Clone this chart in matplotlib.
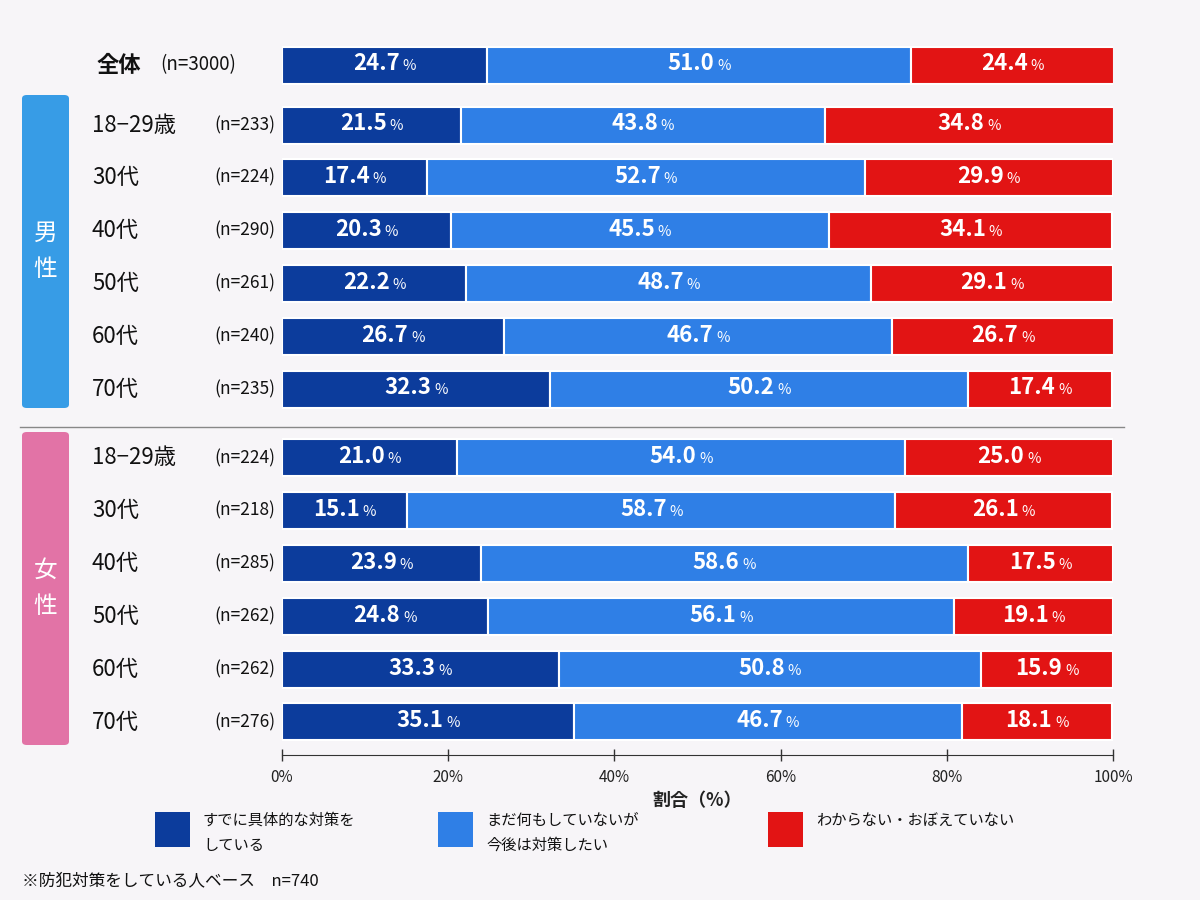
import matplotlib
matplotlib.use("Agg")
import matplotlib.pyplot as plt
from matplotlib.patches import FancyBboxPatch
from matplotlib.offsetbox import TextArea, HPacker, AnnotationBbox
import matplotlib.transforms as mtransforms

plt.rcParams["font.family"] = ["Noto Sans CJK JP", "DejaVu Sans"]

# ---- data ----
row_names = ["全体",
             "18−29歳", "30代", "40代", "50代", "60代", "70代",
             "18−29歳", "30代", "40代", "50代", "60代", "70代"]
row_n = ["(n=3000)",
         "(n=233)", "(n=224)", "(n=290)", "(n=261)", "(n=240)", "(n=235)",
         "(n=224)", "(n=218)", "(n=285)", "(n=262)", "(n=262)", "(n=276)"]
done = [24.7, 21.5, 17.4, 20.3, 22.2, 26.7, 32.3, 21.0, 15.1, 23.9, 24.8, 33.3, 35.1]
want = [51.0, 43.8, 52.7, 45.5, 48.7, 46.7, 50.2, 54.0, 58.7, 58.6, 56.1, 50.8, 46.7]
unknown = [24.4, 34.8, 29.9, 34.1, 29.1, 26.7, 17.4, 25.0, 26.1, 17.5, 19.1, 15.9, 18.1]
series_names = ["すでに具体的な対策を\nしている", "まだ何もしていないが\n今後は対策したい",
                "わからない・おぼえていない"]
colors = ["#0C3C9C", "#2F7FE6", "#E21414"]
groups = ["男性", "女性"]
group_colors = ["#379CE6", "#E273A6"]
xticks = [0, 20, 40, 60, 80, 100]
note = "※防犯対策をしている人ベース　n=740"

W, H = 1200, 900
fig = plt.figure(figsize=(12, 9), dpi=100)
fig.patch.set_facecolor("#F7F5F8")

# axes in pixel-like coordinates: x 282..1113, y top 40..bottom 755
ax = fig.add_axes([282 / W, 1 - 755 / H, (1113 - 282) / W, (755 - 40) / H])
ax.set_facecolor("none")
ax.set_xlim(0, 100)
ax.set_ylim(755, 40)

# row centres (px)
step = 52.8
ypos = [65] + [125 + i * step for i in range(6)] + [458 + i * step for i in range(6)]
bar_h = 37


def pct_label(x, y, v):
    num = TextArea(f"{v:.1f}", textprops=dict(color="white", fontsize=16, fontweight="bold"))
    pc = TextArea("%", textprops=dict(color="white", fontsize=10.5))
    box = HPacker(children=[num, pc], align="baseline", pad=0, sep=2)
    ab = AnnotationBbox(box, (x, y), frameon=False, box_alignment=(0.5, 0.45))
    ax.add_artist(ab)


for i, y in enumerate(ypos):
    left = 0
    for vals, c in zip([done, want, unknown], colors):
        v = vals[i]
        ax.barh(y, v, left=left, height=bar_h, color=c, edgecolor="white", linewidth=1.5)
        pct_label(left + v / 2, y, v)
        left += v

# row labels (blended: x in figure fraction, y in data)
blend = mtransforms.blended_transform_factory(fig.transFigure, ax.transData)
for i, y in enumerate(ypos):
    if i == 0:
        ax.text(97 / W, y, row_names[i], transform=blend, ha="left", va="center",
                fontsize=16, fontweight="bold", color="#111111")
        ax.text(160 / W, y, "(n=3000)", transform=blend, ha="left", va="center",
                fontsize=13.5, color="#111111")
    else:
        ax.text(92 / W, y, row_names[i], transform=blend, ha="left", va="center",
                fontsize=16, color="#111111")
        ax.text(275 / W, y, row_n[i], transform=blend, ha="right", va="center",
                fontsize=12.5, color="#111111")

# group side boxes
box_spans = [(95, 408), (432, 745)]
for g, gc, (y0, y1) in zip(groups, group_colors, box_spans):
    fig.patches.append(FancyBboxPatch((22 / W, 1 - y1 / H), 47 / W, (y1 - y0) / H,
                                      boxstyle="round,pad=0,rounding_size=0.004",
                                      transform=fig.transFigure, facecolor=gc,
                                      edgecolor="none", zorder=0))
    yc = (y0 + y1) / 2
    fig.text(45.5 / W, 1 - (yc - 18) / H, g[0], ha="center", va="center",
             fontsize=17, color="white")
    fig.text(45.5 / W, 1 - (yc + 18) / H, g[1], ha="center", va="center",
             fontsize=17, color="white")

# separator line between groups
fig.add_artist(plt.Line2D([20 / W, 1124 / W], [1 - 427 / H, 1 - 427 / H],
                          transform=fig.transFigure, color="#888888", linewidth=1))

# x axis
for s in ["top", "right", "left"]:
    ax.spines[s].set_visible(False)
ax.spines["bottom"].set_color("#333333")
ax.set_yticks([])
ax.set_xticks(xticks)
ax.set_xticklabels([f"{t}%" for t in xticks], fontsize=11, color="#222222")
ax.tick_params(axis="x", direction="inout", length=8, width=1, color="#333333", pad=6)
ax.set_xlabel("割合（%）", fontsize=13, fontweight="bold", color="#222222", labelpad=4)

# legend
leg_x = [155, 438, 768]
for lx, c, name in zip(leg_x, colors, series_names):
    fig.patches.append(plt.Rectangle((lx / W, 1 - 847 / H), 35 / W, 35 / H,
                                     transform=fig.transFigure, facecolor=c,
                                     edgecolor="none"))
    fig.text((lx + 48) / W, 1 - 812 / H, name, ha="left", va="top",
             fontsize=11, color="#111111", linespacing=1.6)

fig.text(22 / W, 1 - 881 / H, note, ha="left", va="center", fontsize=12, color="#111111")

fig.savefig("out.png", dpi=100, facecolor=fig.get_facecolor())
